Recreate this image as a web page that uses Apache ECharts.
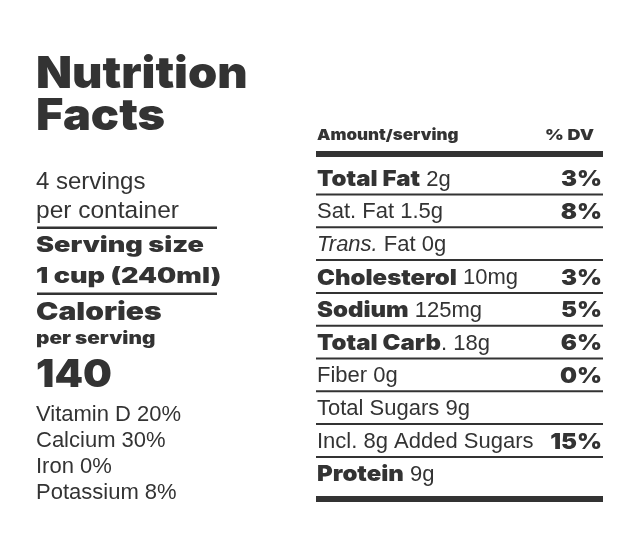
<!DOCTYPE html>
<html><head><meta charset="utf-8">
<script src="https://cdn.jsdelivr.net/npm/echarts@6/dist/echarts.min.js"></script>
<style>html,body{margin:0;padding:0;background:#fff}#c{width:641px;height:537px}</style>
</head><body><div id="c"></div>
<script>
// ---- data ----
const titleLines = ['Nutrition', 'Facts'];
const servingsText = ['4 servings', 'per container'];
const servingSize = ['Serving size', '1 cup (240ml)'];
const caloriesLabel = ['Calories', 'per serving'];
const calories = 140;
const vitamins = ['Vitamin D', 'Calcium', 'Iron', 'Potassium'];
const vitaminDV = [20, 30, 0, 8];
const headerLabels = ['Amount/serving', '% DV'];
const nutrients = ['Total Fat', 'Sat. Fat', 'Trans. Fat', 'Cholesterol', 'Sodium', 'Total Carb', 'Fiber', 'Total Sugars', 'Added Sugars', 'Protein'];
const amounts = ['2g', '1.5g', '0g', '10mg', '125mg', '18g', '0g', '9g', '8g', '9g'];
const dvs = [3, 8, null, 3, 5, 6, 0, null, 15, null];
const mainNutrients = ['Total Fat', 'Cholesterol', 'Sodium', 'Total Carb', 'Protein'];

// ---- style ----
const INK = '#333';
const HEAVY = 'Inter, "Liberation Sans", sans-serif';
const REG = '"Liberation Sans", Arial, sans-serif';
const mctx = document.createElement('canvas').getContext('2d');
function measure(text, family, size, weight, style) {
  mctx.font = (style || 'normal') + ' ' + weight + ' ' + size + 'px ' + family;
  return mctx.measureText(text).width;
}

const g = [];
function txt(x, y, text, font, size, weight, align, sx, fstyle) {
  g.push({ type: 'text', x: x, y: y, scaleX: sx || 1, style: {
    text: text, fontFamily: font, fontSize: size, fontWeight: weight, fontStyle: fstyle || 'normal',
    fill: INK, textAlign: align || 'left', textVerticalAlign: 'middle'
  } });
}
function rect(x, y, w, h) {
  g.push({ type: 'rect', shape: { x: x, y: y, width: w, height: h }, style: { fill: INK } });
}

// left column
const LX = 36;
titleLines.forEach((t, k) => txt(LX, 75 + k * 42, t, HEAVY, 44, 900, 'left', 1.065));
txt(LX, 182.5, servingsText[0], REG, 24, 400);
txt(LX, 211.5, servingsText[1], REG, 24.5, 400);
rect(LX + 1, 226.5, 180, 2.5);
servingSize.forEach((t, k) => txt(LX, 245.5 + k * 31, t, HEAVY, 21, 900, 'left', 1.29));
rect(LX + 1, 292.5, 180, 2.5);
txt(LX, 312, caloriesLabel[0], HEAVY, 25, 900, 'left', 1.2);
txt(LX, 339, caloriesLabel[1], HEAVY, 17, 900, 'left', 1.22);
txt(LX, 376, String(calories), HEAVY, 38, 900, 'left', 1.07);
vitamins.forEach((v, k) => txt(LX, 415 + k * 26, v + ' ' + vitaminDV[k] + '%', REG, 22, 400));

// right table
const RX = 317, RR = 603, TW = RR - RX + 1;
const BS = 22, BSX = 1.09, RS = 22;
txt(RX, 135, headerLabels[0], HEAVY, 15, 900, 'left', 1.13);
txt(594, 135, headerLabels[1], HEAVY, 15, 900, 'right', 1.2);
rect(RX - 1, 151, TW, 6);
const LINE0 = 194.5, RH = 32.8;
nutrients.forEach((n, i) => {
  const cy = LINE0 - 15 + i * RH;
  const a = amounts[i];
  if (n === 'Trans. Fat') {
    txt(RX, cy, 'Trans.', REG, RS, 400, 'left', 1, 'italic');
    txt(RX + measure('Trans.', REG, RS, 400, 'italic'), cy, ' Fat ' + a, REG, RS, 400);
  } else if (n === 'Added Sugars') {
    txt(RX, cy, 'Incl. ' + a + ' Added Sugars', REG, RS, 400);
  } else if (mainNutrients.indexOf(n) >= 0) {
    txt(RX, cy, n, HEAVY, BS, 900, 'left', BSX);
    const rest = (n === 'Total Carb' ? '. ' : ' ') + a;
    txt(RX + measure(n, HEAVY, BS, 900) * BSX, cy, rest, REG, RS, 400);
  } else {
    txt(RX, cy, n + ' ' + a, REG, RS, 400);
  }
  if (dvs[i] !== null) txt(RR - 1, cy, dvs[i] + '%', HEAVY, BS, 900, 'right', BSX);
  if (i < nutrients.length - 1) rect(RX - 1, LINE0 - 1 + i * RH, TW, 2);
});
rect(RX - 1, 496, TW, 6);

const chart = echarts.init(document.getElementById('c'));
chart.setOption({ backgroundColor: '#fff', animation: false, graphic: g });
</script></body></html>
